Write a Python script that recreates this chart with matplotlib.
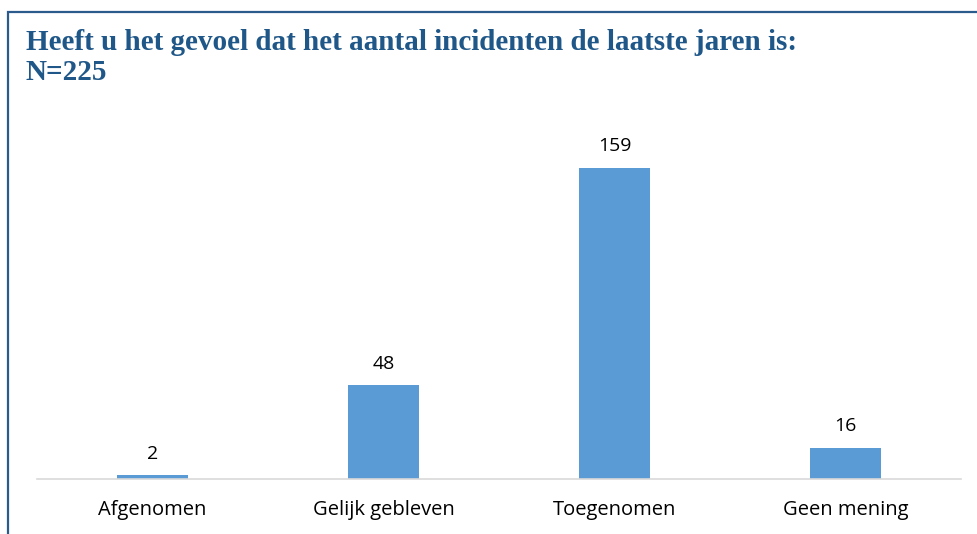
import matplotlib.pyplot as plt
from matplotlib.patches import Rectangle

categories = ["Afgenomen", "Gelijk gebleven", "Toegenomen", "Geen mening"]
counts = [2, 48, 159, 16]
title = "Heeft u het gevoel dat het aantal incidenten de laatste jaren is:\nN=225"

W, H = 978, 534
fig = plt.figure(figsize=(W / 100, H / 100), dpi=100)

# frame around the chart (cropped at right and bottom in the original)
fig.patches.append(Rectangle((8 / W, -0.1), 1.2, (H - 12) / H + 0.1,
                             transform=fig.transFigure, fill=False,
                             edgecolor="#2a5b8c", linewidth=1.6))

fig.text(26 / W, 1 - 29 / H, title, ha="left", va="top",
         family="Liberation Serif", weight="bold", fontsize=21,
         color="#1f5788", linespacing=1.15)

ax_left, ax_right, ax_bottom, ax_top = 37, 961, 479, 130
ax = fig.add_axes([ax_left / W, 1 - ax_bottom / H,
                   (ax_right - ax_left) / W, (ax_bottom - ax_top) / H])
x = range(len(categories))
bars = ax.bar(x, counts, width=0.31, color="#5b9bd5")
ax.set_xlim(-0.5, len(categories) - 0.5)
ax.set_ylim(0, (ax_bottom - ax_top) / 1.956)
for b, v in zip(bars, counts):
    ax.annotate(str(v), (b.get_x() + b.get_width() / 2, v),
                xytext=(0, 9), textcoords="offset points",
                ha="center", va="bottom", fontsize=14, family="Open Sans",
                color="#000000")
ax.set_xticks(list(x))
ax.set_xticklabels(categories, fontsize=14.5, family="Open Sans")
ax.tick_params(axis="x", length=0, pad=15)
ax.set_yticks([])
for s in ["top", "left", "right"]:
    ax.spines[s].set_visible(False)
ax.spines["bottom"].set_color("#d9d9d9")
ax.spines["bottom"].set_linewidth(1.2)

fig.savefig("out.png", dpi=100)
